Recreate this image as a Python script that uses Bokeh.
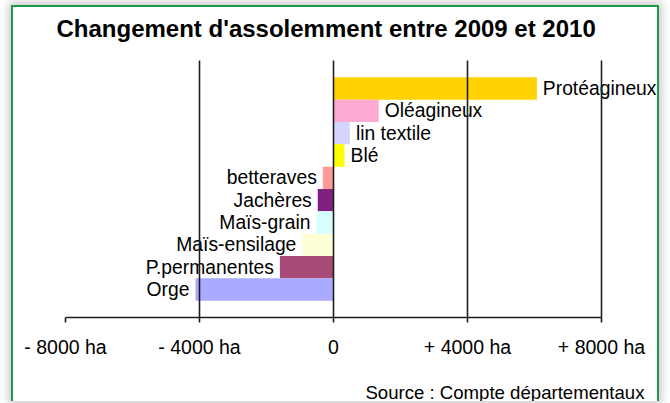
from bokeh.plotting import figure
from bokeh.models import ColumnDataSource, FactorRange, FixedTicker, Title, LabelSet
from bokeh.core.properties import value
from bokeh.embed import file_html
from bokeh.resources import INLINE

# ---- data ----
categories = ["Protéagineux", "Oléagineux", "lin textile", "Blé", "betteraves",
              "Jachères", "Maïs-grain", "Maïs-ensilage", "P.permanentes", "Orge"]
changes_ha = [6070, 1350, 490, 330, -320, -470, -510, -930, -1600, -4120]
colors = ["#FFD200", "#FFAAD5", "#D5D5FF", "#FFFF00", "#FF9999",
          "#7F1F7F", "#D5FFFF", "#FFFFD5", "#A84A78", "#AAAAFF"]
tick_values = [-8000, -4000, 0, 4000, 8000]
tick_labels = ["- 8000 ha", "- 4000 ha", "0", "+ 4000 ha", "+ 8000 ha"]
title_text = "Changement d'assolemment entre 2009 et 2010"
source_text = "Source : Compte départementaux"

FONT = "Liberation Sans"
DARK = "#1E1E1E"
GREEN = "#1C9C48"

src = ColumnDataSource(dict(cat=categories, val=changes_ha, color=colors))
pos = [i for i, v in enumerate(changes_ha) if v >= 0]
neg = [i for i, v in enumerate(changes_ha) if v < 0]
src_pos = ColumnDataSource(dict(cat=[categories[i] for i in pos], val=[changes_ha[i] for i in pos]))
src_neg = ColumnDataSource(dict(cat=[categories[i] for i in neg], val=[changes_ha[i] for i in neg]))

# x range extends past +8000 so the outer bar label is not clipped; the axis itself is bounded
p = figure(width=648, height=396, output_backend="svg", toolbar_location=None,
           x_range=(-8000, 9761),
           y_range=FactorRange(*list(reversed(categories)), range_padding=0.151),
           min_border_left=52, min_border_right=1, min_border_top=52, min_border_bottom=85)

p.hbar(y="cat", left=0, right="val", height=1, fill_color="color", line_color=None, source=src)

p.add_layout(LabelSet(x="val", y="cat", text="cat", source=src_pos, x_offset=6, text_align="left",
                      text_baseline="middle", text_font=value(FONT), text_font_size="19.3px",
                      text_color="black"))
p.add_layout(LabelSet(x="val", y="cat", text="cat", source=src_neg, x_offset=-6, text_align="right",
                      text_baseline="middle", text_font=value(FONT), text_font_size="19.3px",
                      text_color="black"))

p.yaxis.visible = False
p.ygrid.grid_line_color = None
p.outline_line_color = None

ax = p.xaxis[0]
ax.ticker = FixedTicker(ticks=tick_values)
ax.bounds = (tick_values[0], tick_values[-1])
ax.major_label_overrides = {t: l for t, l in zip(tick_values, tick_labels)}
ax.axis_line_color = DARK
ax.axis_line_width = 1.6
ax.major_tick_line_color = DARK
ax.major_tick_line_width = 1.6
ax.major_tick_out = 5
ax.major_tick_in = 0
ax.minor_tick_line_color = None
ax.major_label_text_font = FONT
ax.major_label_text_font_size = "19.5px"
ax.major_label_text_color = "black"
ax.major_label_standoff = 13

g = p.xgrid[0]
g.ticker = FixedTicker(ticks=tick_values)
g.grid_line_color = DARK
g.grid_line_width = 1.6
g.level = "overlay"

# spacer between frame and main title
p.add_layout(Title(text=" ", text_font_size="1px", standoff=11), "above")

p.title.text = title_text
p.title.text_font = FONT
p.title.text_font_size = "24px"
p.title.text_font_style = "bold"
p.title.text_color = "black"
p.title.align = "left"
p.title.offset = -9
p.title.standoff = 10

# spacer between axis and source note
p.add_layout(Title(text=" ", text_font_size="1px", standoff=15), "below")
p.add_layout(Title(text=source_text, align="right", text_font=FONT, text_font_size="18.6px",
                   text_font_style="normal", text_color="black", offset=16, standoff=2), "below")

p.styles = {"border-left": f"2px solid {GREEN}", "border-top": f"2px solid {GREEN}",
            "border-right": f"2px solid {GREEN}", "margin-left": "11px", "margin-top": "5px",
            "box-shadow": "0 0 8px 3px rgba(0,0,0,0.2)"}

open("out.html", "w").write(file_html(p, INLINE))
